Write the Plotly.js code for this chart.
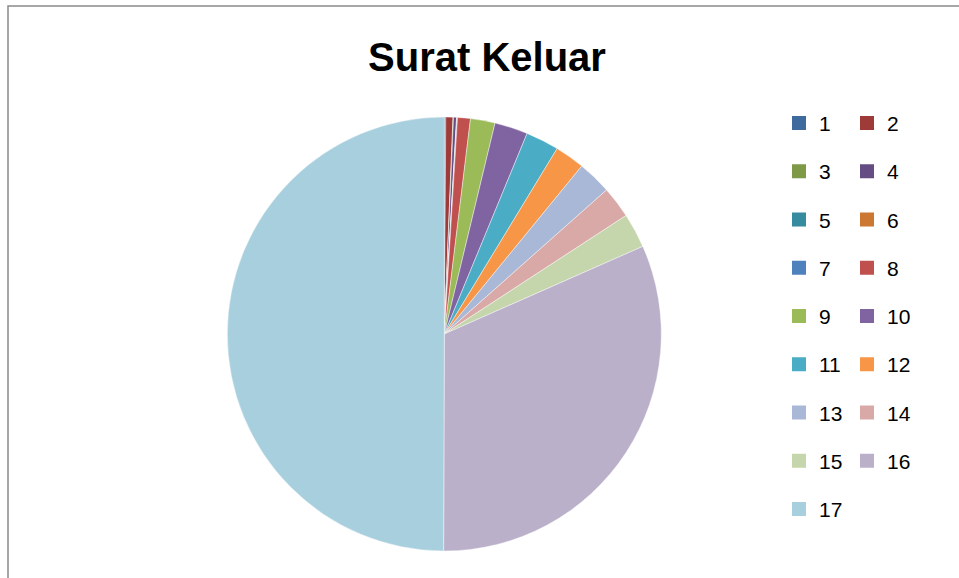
<!DOCTYPE html>
<html>
<head>
<meta charset="utf-8">
<script src="https://cdn.plot.ly/plotly-3.0.1.min.js"></script>
<style>
  html, body { margin: 0; padding: 0; background: #fff; }
  #chart { width: 959px; height: 578px; }
</style>
</head>
<body>
<div id="chart"></div>
<script>
// ---- data ----
const categories = ['1','2','3','4','5','6','7','8','9','10','11','12','13','14','15','16','17'];
const values = [0.4, 1.9, 0.15, 0.8, 0.1, 0.05, 0.1, 3.45, 6.6, 8.9, 8.9, 8.0, 9.1, 8.5, 9.3, 114.1, 180];
const colors = ['#3F6A9E','#9E3B39','#7E9A47','#654D83','#378B9E','#CC7833','#4F81BD','#C0504D',
                '#9BBB59','#8064A2','#4BACC6','#F79646','#A9B8D7','#D9A9A8','#C6D6AC','#BAB0CA','#A8CFDD'];
const chartTitle = 'Surat Keluar';

// ---- layout helpers ----
const W = 959, H = 578;
const cx = 444.3, cy = 334, R = 217;
const FONT = '"Liberation Sans", Arial, sans-serif';

const traces = [];
const layout = {
  width: W, height: H,
  margin: {l: 0, r: 0, t: 0, b: 0},
  paper_bgcolor: '#ffffff',
  showlegend: true,
  title: {
    text: chartTitle,
    font: {family: FONT, size: 40, color: '#000000', weight: 700},
    x: 487 / W, xanchor: 'center', xref: 'paper',
    y: 1 - 57 / H, yanchor: 'middle', yref: 'container'
  },
  shapes: [{
    type: 'rect', xref: 'paper', yref: 'paper',
    x0: 8 / W, x1: 1.2, y0: -0.2, y1: 1 - 6 / H,
    line: {color: '#8a8a8a', width: 1.5}, fillcolor: 'rgba(0,0,0,0)'
  }]
};

// legend-only helper pies (hidden beneath the main pie), one legend per entry
categories.forEach((c, i) => {
  const id = i === 0 ? 'legend' : 'legend' + (i + 1);
  const col = i % 2, row = Math.floor(i / 2);
  traces.push({
    type: 'pie', labels: [c], values: [values[i]],
    marker: {colors: [colors[i]], line: {color: [colors[i]], width: 2}},
    sort: false, textinfo: 'none', hoverinfo: 'skip',
    domain: {x: [0.44, 0.46], y: [0.40, 0.43]},
    legend: id, showlegend: true
  });
  layout[id] = {
    x: (col === 0 ? 779 : 847) / W, xanchor: 'left',
    y: 1 - (123.3 + 48.25 * row) / H, yanchor: 'middle',
    bgcolor: 'rgba(0,0,0,0)', borderwidth: 0,
    font: {family: FONT, size: 21, color: '#000000'}
  };
});

// main pie
traces.push({
  type: 'pie',
  labels: categories,
  values: values,
  marker: {colors: colors, line: {color: 'rgba(255,255,255,0.7)', width: 0.6}},
  sort: false,
  direction: 'clockwise',
  rotation: 0,
  textinfo: 'none',
  hoverinfo: 'label+value+percent',
  showlegend: false,
  domain: {x: [(cx - R) / W, (cx + R) / W], y: [(H - cy - R) / H, (H - cy + R) / H]}
});

Plotly.newPlot('chart', traces, layout, {displayModeBar: false, staticPlot: true});
</script>
</body>
</html>
